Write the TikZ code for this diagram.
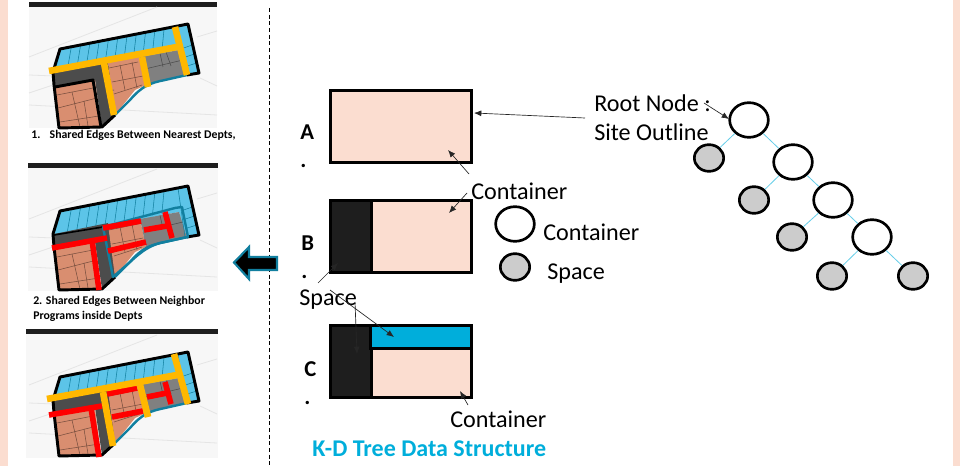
\documentclass[tikz,border=0pt]{standalone}
\usepackage{fontspec}
\setmainfont{Carlito}
\usetikzlibrary{positioning,arrows.meta,calc,shapes.geometric}
\definecolor{sitePink}{HTML}{FBDDD0}
\definecolor{siteDark}{HTML}{1E1E1E}
\definecolor{siteBlue}{HTML}{00AEDB}
\definecolor{planBlue}{HTML}{5CC4E8}
\definecolor{planBrown}{HTML}{D98E70}
\definecolor{planOrange}{HTML}{FFB800}
\definecolor{planTeal}{HTML}{117F9F}
\tikzset{
	pageBand/.style={fill=sitePink, draw=none},
	panelBack/.style={fill=black!3, draw=none},
	panelBar/.style={fill=siteDark, draw=none},
	siteTrace/.style={draw=black!10, line width=0.6pt},
	planEdge/.style={draw=black, line width=2.2pt, line join=round},
	planGrid/.style={draw=planBrown!55!black, line width=0.4pt},
	planCell/.style={draw=planTeal, line width=0.4pt},
	grayCell/.style={draw=black!70, line width=0.4pt},
	tealEdge/.style={draw=planTeal, line width=1.8pt, line join=round},
	orangeEdge/.style={draw=planOrange, line width=5pt},
	redEdge/.style={draw=red, line width=4.2pt},
	boxBase/.style={draw=black, line width=2.25pt, inner sep=0pt, outer sep=0pt},
	boxPink/.style={boxBase, fill=sitePink},
	boxDark/.style={boxBase, fill=siteDark},
	boxBlue/.style={boxBase, fill=siteBlue},
	treeBox/.style={ellipse, draw=black, line width=2pt, inner sep=0pt, fill=white, minimum width=29pt, minimum height=26pt},
	treeSpace/.style={ellipse, draw=black, line width=2pt, inner sep=0pt, fill=black!20, minimum width=22pt, minimum height=20pt},
	treeLink/.style={draw=siteBlue!60!white, line width=0.6pt},
	noteText/.style={font=\fontsize{18.1}{21}\selectfont, inner sep=0pt, anchor=west},
	stepText/.style={font=\fontsize{17}{21}\selectfont\bfseries, inner sep=0pt, align=left, anchor=north west},
	capText/.style={font=\fontsize{8.85}{11.2}\selectfont\bfseries, inner sep=0pt, align=left, anchor=north west},
	noteArrow/.style={-{Latex[length=5.5pt,width=4.5pt]}, draw=black!85, line width=0.5pt}
}
% plan of the site, in the pixels of the first panel
\newcommand{\planBase}{
	\draw[siteTrace] (29,57) -- (157,7);
	\draw[siteTrace] (29,75) -- (54,76);
	\draw[siteTrace] (29,93) -- (56,84);
	\draw[siteTrace] (29,105) -- (217,115);
	\draw[siteTrace] (197,37) -- (217,31);
	\draw[siteTrace] (200,78) -- (217,86);
	% zones
	\fill[planBlue] (60,49) -- (188,24) -- (199,73) -- (186,76) -- (179,50) -- (54,74) -- cycle;
	\fill[black!70] (54,72) -- (108,61) -- (116,114) -- (102,127) -- (95,80) -- (54,87) -- cycle;
	\fill[planBrown] (108,62) -- (140,57) -- (146,85) -- (135,90) -- (115,115) -- cycle;
	\fill[black!50] (140,57) -- (179,50) -- (187,76) -- (165,80) -- (146,85) -- cycle;
	\fill[planBrown] (55,87) -- (95,80) -- (101,127) -- (59,128) -- cycle;
	% cells
	\foreach \t in {0.08,0.16,...,0.96} {
		\draw[planCell] ($(62,49)!\t!(178,26)$) -- ($(58,71)!\t!(176,49)$);
	}
	\foreach \t in {0.25,0.5,0.75} {
		\draw[planCell] ($(179,40)!\t!(189,75)$) -- ($(190,36)!\t!(199,72)$);
	}
	\draw[planCell] (178,26) -- (185,75);
	\foreach \xa/\ya/\xb/\yb in {71/71/74/83,88/68/90/81,100/63/103/78,98/92/114/90,100/108/114/106} {
		\draw[grayCell] (\xa,\ya) -- (\xb,\yb);
	}
	\foreach \xa/\ya/\xb/\yb in {145/69/183/60,160/53/163/67,166/52/171/66} {
		\draw[grayCell] (\xa,\ya) -- (\xb,\yb);
	}
	\foreach \xa/\ya/\xb/\yb in {109/68/138/62,112/82/143/76,114/94/142/85,120/65/125/90,132/62/137/88,57/95/93/88,58/108/97/98,60/122/99/116,72/92/80/127,84/101/88/126} {
		\draw[planGrid] (\xa,\ya) -- (\xb,\yb);
	}
	\draw[tealEdge] (187,75) -- (165,80) .. controls (150,83) and (142,86) .. (130,100) -- (115,115);
	\draw[planEdge] (115,115) -- (102,127) -- (59,128) -- (54,85) -- (53,72) -- (60,49) -- (188,24) -- (199,73) -- (187,75);
}
\begin{document}
\begin{tikzpicture}[x=0.75pt, y=-0.75pt]

	\useasboundingbox (0,0) rectangle (960,466);
	\fill[white] (0,0) rectangle (960,466);
	\fill[pageBand] (0,0) rectangle (8,466);
	\fill[pageBand] (953,0) rectangle (960,466);
	\draw[densely dashed, line width=0.6pt] (269,8) -- (269,466);

	% Panel 1
	\fill[panelBack] (29,7) rectangle (217,128);
	\fill[panelBar] (29,2) rectangle (217,7);
	\planBase
	\draw[planEdge] (55,87) -- (93,80) -- (101,127);
	\draw[orangeEdge] (49,71) -- (177,47);
	\draw[orangeEdge] (175,27) -- (187,75);
	\draw[orangeEdge] (104,63) -- (114,115);
	\draw[orangeEdge] (142,57) -- (148,87);
	\node[capText] (capOne) at (31,130) {1.\hspace{7pt}Shared Edges Between Nearest Depts,};

	% Panel 2
	\fill[panelBack] (28,168) rectangle (218,291);
	\fill[panelBar] (28,163) rectangle (218,168);
	\begin{scope}[shift={(0,162)}]
		\planBase
		\draw[planEdge, line width=1.2pt] (54,73) -- (103,65);
		\draw[tealEdge] (103,65) -- (175,46) -- (182,45) -- (188,75) -- (160,81) .. controls (150,84) and (143,88) .. (130,100) -- (113,115) -- cycle;
		\draw[redEdge] (52,86) -- (107,76);
		\draw[redEdge] (92,78) -- (99,128);
		\draw[redEdge] (103,66) -- (141,59);
		\draw[redEdge] (108,89) -- (146,80);
		\draw[redEdge] (144,68) -- (167,64);
		\draw[redEdge] (165,50) -- (172,76);
	\end{scope}
	\node[capText] (capTwo) at (33,296) {2. Shared Edges Between Neighbor\\Programs inside Depts};

	% Panel 3
	\fill[panelBack] (26,334) rectangle (218,458);
	\fill[panelBar] (26,329) rectangle (218,334);
	\begin{scope}[shift={(0,328)}]
		\planBase
		\draw[redEdge] (49,87) -- (102,78);
		\draw[redEdge] (91,80) -- (99,129);
		\draw[redEdge] (107,66) -- (137,60);
		\draw[redEdge] (112,89) -- (143,83);
		\draw[redEdge] (147,69) -- (167,65);
		\draw[redEdge] (165,54) -- (171,76);
		\draw[orangeEdge] (47,71) -- (177,47);
		\draw[orangeEdge] (174,26) -- (188,76);
		\draw[orangeEdge] (103,64) -- (113,118);
		\draw[orangeEdge] (140,57) -- (148,89);
	\end{scope}

	% Block arrow
	\draw[draw=planTeal, fill=black, line width=1.6pt, line join=miter] (234,262.5) -- (249,247) -- (249,257) -- (277,257) -- (277,270) -- (249,270) -- (249,279) -- cycle;

	% Steps
	\node[stepText] (stepA) at (300,125) {A\\.};
	\node[stepText] (stepB) at (301,236) {B\\.};
	\node[stepText] (stepC) at (304,361) {C\\.};

	% Partitions
	\node[boxPink, minimum width=105.75pt, minimum height=54.4pt] (rectA) at (401,126.5) {};
	\node[boxPink, minimum width=105.75pt, minimum height=54.4pt] (rectB) at (401,236.5) {};
	\node[boxDark, minimum width=30.4pt, minimum height=54.4pt] (darkB) at (350.75,236.5) {};
	\node[boxPink, minimum width=105.75pt, minimum height=54.4pt] (rectC) at (401,361.5) {};
	\node[boxDark, minimum width=30.4pt, minimum height=54.4pt] (darkC) at (350.75,361.5) {};
	\node[boxBlue, minimum width=75.4pt, minimum height=17pt] (blueC) at (421.25,336.75) {};

	% Tree
	\node[treeBox] (rootNode) at (749,120) {};
	\node[treeBox] (boxTwo) at (793,162) {};
	\node[treeBox] (boxThree) at (833,200) {};
	\node[treeBox] (boxFour) at (872,237) {};
	\node[treeSpace] (spaceOne) at (709,158) {};
	\node[treeSpace] (spaceTwo) at (754,200) {};
	\node[treeSpace] (spaceThree) at (792,237) {};
	\node[treeSpace] (spaceFour) at (832,276) {};
	\node[treeSpace] (spaceFive) at (913,276) {};
	\draw[treeLink] (rootNode) -- (spaceOne);
	\draw[treeLink] (rootNode) -- (boxTwo);
	\draw[treeLink] (boxTwo) -- (spaceTwo);
	\draw[treeLink] (boxTwo) -- (boxThree);
	\draw[treeLink] (boxThree) -- (spaceThree);
	\draw[treeLink] (boxThree) -- (boxFour);
	\draw[treeLink] (boxFour) -- (spaceFour);
	\draw[treeLink] (boxFour) -- (spaceFive);

	% Legend
	\node[treeBox] (legendBox) at (515,224) {};
	\node[treeSpace] (legendSpace) at (515,267) {};
	\node[noteText] (legendBoxText) at (543,232) {Container};
	\node[noteText] (legendSpaceText) at (547,274) {Space};

	% Notes
	\node[noteText] (rootText) at (594,103) {Root Node :};
	\node[noteText] (siteText) at (594,132) {Site Outline};
	\node[noteText] (contText) at (471,191) {Container};
	\node[noteText] (contLow) at (450,419) {Container};
	\node[noteText] (spaceText) at (299,300) {Space};
	\node[font=\fontsize{18}{22}\selectfont\bfseries, text=siteBlue, inner sep=0pt, anchor=west] (titleText) at (312,449) {K-D Tree Data Structure};

	% Arrow ends
	\coordinate (siteFrom) at (585,118);
	\coordinate (siteTo) at (474,113);
	\coordinate (rootFrom) at (704,103);
	\coordinate (rootTo) at (729,119);
	\coordinate (aFrom) at (469,174);
	\coordinate (aTo) at (448,150);
	\coordinate (bFrom) at (467,193);
	\coordinate (bTo) at (449,213);
	\coordinate (darkFrom) at (318,283);
	\coordinate (darkTo) at (338,263);
	\coordinate (blueFrom) at (330,290);
	\coordinate (blueTo) at (394,337);
	\coordinate (leftFrom) at (355,302);
	\coordinate (leftTo) at (357,354);
	\coordinate (cFrom) at (468,405);
	\coordinate (cTo) at (460,391);
	\draw[noteArrow] (siteFrom) -- (siteTo);
	\draw[noteArrow] (rootFrom) -- (rootTo);
	\draw[noteArrow] (aFrom) -- (aTo);
	\draw[noteArrow] (bFrom) -- (bTo);
	\draw[noteArrow] (darkFrom) -- (darkTo);
	\draw[noteArrow] (blueFrom) -- (blueTo);
	\draw[noteArrow] (leftFrom) -- (leftTo);
	\draw[noteArrow] (cFrom) -- (cTo);

\end{tikzpicture}
\end{document}
